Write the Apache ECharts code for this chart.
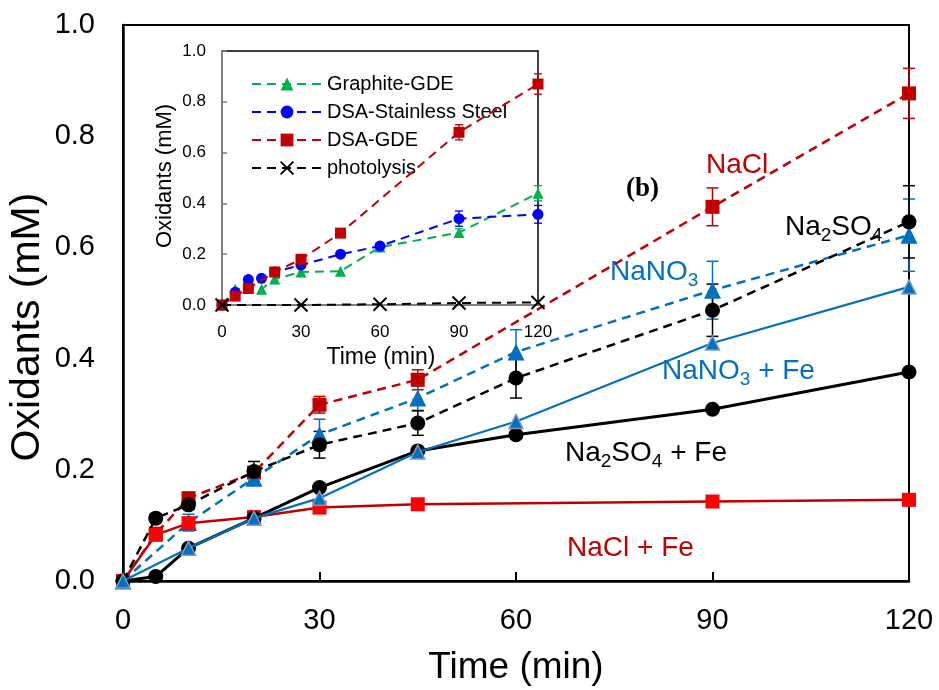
<!DOCTYPE html>
<html><head><meta charset="utf-8">
<script src="https://cdn.jsdelivr.net/npm/echarts@6/dist/echarts.min.js"></script>
<style>html,body{margin:0;padding:0;background:#fff}#c{width:939px;height:690px}</style>
</head><body><div id="c"></div>
<script>
// ---------- main chart data ----------
const timeMain = [0, 5, 10, 20, 30, 45, 60, 90, 120];
const naclVals    = [0, 0.085, 0.149, 0.195, 0.317, 0.362, null, 0.673, 0.877];
const naclErr     = [0, 0, 0.006, 0.010, 0.015, 0.018, null, 0.034, 0.045];
const nano3Vals   = [0, null, 0.105, 0.185, 0.263, 0.329, 0.412, 0.523, 0.622];
const nano3Err    = [0, null, 0.015, 0.012, 0.028, 0.022, 0.040, 0.052, 0.065];
const na2so4Vals  = [0, 0.113, 0.137, 0.197, 0.245, 0.284, 0.365, 0.487, 0.646];
const na2so4Err   = [0, 0.008, 0.008, 0.018, 0.024, 0.022, 0.036, 0.047, 0.065];
const na2so4FeVals= [0, 0.008, 0.059, 0.113, 0.168, 0.234, 0.263, 0.309, 0.376];
const nano3FeVals = [0, null, 0.059, 0.113, 0.149, 0.232, 0.287, 0.428, 0.529];
const naclFeVals  = [0, 0.083, 0.104, 0.115, 0.132, 0.138, null, 0.143, 0.146];
const xTicksMain = [0, 30, 60, 90, 120];
const yTicksMain = [0, 0.2, 0.4, 0.6, 0.8, 1.0];

// ---------- inset data ----------
const timeInset = [0, 5, 10, 15, 20, 30, 45, 60, 90, 120];
const graphiteVals = [0, 0.062, 0.07, 0.062, 0.102, 0.13, 0.133, 0.228, 0.285, 0.44];
const graphiteErr  = [0, 0, 0, 0, 0, 0, 0, 0.01, 0.015, 0.03];
const dsaSSVals    = [0, 0.05, 0.1, 0.105, 0.13, 0.157, 0.2, 0.232, 0.34, 0.357];
const dsaSSErr     = [0, 0, 0, 0, 0, 0, 0.01, 0.01, 0.03, 0.035];
const dsaGDEVals   = [0, 0.035, 0.065, null, 0.13, 0.18, 0.283, null, 0.68, 0.87];
const dsaGDEErr    = [0, 0, 0, null, 0, 0.01, 0.01, null, 0.03, 0.04];
const photoVals    = [0, null, null, null, null, 0.0, null, 0.003, 0.008, 0.01];
const insetNames = ['Graphite-GDE', 'DSA-Stainless Steel', 'DSA-GDE', 'photolysis'];

const DRED = '#C00000', RED = '#FF0000', BLUE = '#0070C0', BLK = '#000000';
const GREEN = '#00B050', PBLUE = '#0000FF';
const FONT = 'Liberation Sans, Arial, sans-serif';

function pairs(times, vals) {
  const out = [];
  times.forEach((t, i) => { if (vals[i] != null) out.push([t, vals[i]]); });
  return out;
}
function errData(times, vals, errs) {
  const out = [];
  times.forEach((t, i) => { if (vals[i] != null && errs[i]) out.push([t, vals[i] - errs[i], vals[i] + errs[i]]); });
  return out;
}
function errSeries(times, vals, errs, color, gi, capW, lw) {
  return {
    type: 'custom', xAxisIndex: gi, yAxisIndex: gi, silent: true, z: 1,
    encode: { x: 0, y: [1, 2] },
    data: errData(times, vals, errs),
    renderItem(params, api) {
      const x = api.value(0);
      const lo = api.coord([x, api.value(1)]);
      const hi = api.coord([x, api.value(2)]);
      const w = capW / 2, st = { stroke: color, lineWidth: lw };
      return { type: 'group', children: [
        { type: 'line', shape: { x1: lo[0], y1: lo[1], x2: hi[0], y2: hi[1] }, style: st },
        { type: 'line', shape: { x1: lo[0] - w, y1: lo[1], x2: lo[0] + w, y2: lo[1] }, style: st },
        { type: 'line', shape: { x1: hi[0] - w, y1: hi[1], x2: hi[0] + w, y2: hi[1] }, style: st }
      ]};
    }
  };
}
function lineSeries(name, times, vals, color, dashed, lw, symbol, size, gi, fill, z) {
  return {
    name, type: 'line', xAxisIndex: gi, yAxisIndex: gi, data: pairs(times, vals),
    connectNulls: true, symbol, symbolSize: size, showSymbol: true, z: z || 2,
    lineStyle: { color, width: lw, type: dashed ? [9, 6] : 'solid' },
    itemStyle: { color: fill || color, borderColor: fill || color, borderWidth: 0, opacity: 1 },
    emphasis: { disabled: true }, animation: false
  };
}

const chart = echarts.init(document.getElementById('c'), null, { renderer: 'canvas' });
const XMARK = 'path://M0,0L10,10M10,0L0,10';

const sub = { fontSize: 19, fontFamily: FONT, verticalAlign: 'top', padding: [13, 0, 0, 0] };
function ann(x, y, text, color, rich) {
  return { type: 'text', x, y, style: { text, fill: color, font: '28px ' + FONT, textVerticalAlign: 'middle',
    rich: rich ? { n: { fontSize: 28, fontFamily: FONT, fill: color, verticalAlign: 'top', lineHeight: 32 }, s: Object.assign({ fill: color, lineHeight: 32 }, sub) } : undefined } };
}

chart.setOption({
  animation: false,
  backgroundColor: '#fff',
  grid: [
    { left: 123, top: 25, width: 786, height: 556, show: true, borderColor: BLK, borderWidth: 2, backgroundColor: 'transparent' },
    { left: 222, top: 51, width: 316, height: 254, show: true, borderColor: BLK, borderWidth: 1.5, backgroundColor: 'transparent' }
  ],
  xAxis: [
    { type: 'value', gridIndex: 0, min: 0, max: 120, interval: 30,
      axisLine: { lineStyle: { color: BLK, width: 2.5 } },
      axisTick: { inside: true, length: 9, lineStyle: { color: BLK, width: 2 } },
      axisLabel: { fontSize: 29, fontFamily: FONT, color: BLK, margin: 25 },
      splitLine: { show: false } },
    { type: 'value', gridIndex: 1, min: 0, max: 120, interval: 30,
      axisLine: { lineStyle: { color: '#808080', width: 2 } },
      axisTick: { show: false },
      axisLabel: { fontSize: 17, fontFamily: FONT, color: BLK, margin: 19 },
      splitLine: { show: false } }
  ],
  yAxis: [
    { type: 'value', gridIndex: 0, min: 0, max: 1, interval: 0.2,
      axisLine: { show: true, lineStyle: { color: BLK, width: 2.5 } },
      axisTick: { show: false },
      axisLabel: { fontSize: 29, fontFamily: FONT, color: BLK, margin: 28, formatter: v => v.toFixed(1) },
      splitLine: { show: false } },
    { type: 'value', gridIndex: 1, min: 0, max: 1, interval: 0.2,
      axisLine: { show: true, lineStyle: { color: '#808080', width: 2 } },
      axisTick: { show: true, inside: true, length: 5, lineStyle: { color: '#808080', width: 1.5 } },
      axisLabel: { fontSize: 17, fontFamily: FONT, color: BLK, margin: 16, formatter: v => v.toFixed(1) },
      splitLine: { show: false } }
  ],
  legend: {
    data: insetNames, orient: 'vertical', left: 246, top: 69, itemWidth: 70, itemHeight: 16, itemGap: 8,
    textStyle: { fontSize: 20, fontFamily: FONT, color: BLK }, selectedMode: false
  },
  series: [
    // main error bars
    errSeries(timeMain, naclVals, naclErr, DRED, 0, 12, 1.5),
    errSeries(timeMain, nano3Vals, nano3Err, BLUE, 0, 12, 1.5),
    errSeries(timeMain, na2so4Vals, na2so4Err, BLK, 0, 12, 1.5),
    // main lines
    lineSeries('NaCl', timeMain, naclVals, DRED, true, 2.5, 'rect', 14, 0, DRED, 2),
    lineSeries('NaNO3', timeMain, nano3Vals, BLUE, true, 2.5, 'triangle', 17, 0, BLUE, 3),
    lineSeries('NaCl + Fe', timeMain, naclFeVals, DRED, false, 2.5, 'rect', 14, 0, RED, 4),
    lineSeries('Na2SO4', timeMain, na2so4Vals, BLK, true, 2.5, 'circle', 15, 0, BLK, 5),
    lineSeries('Na2SO4 + Fe', timeMain, na2so4FeVals, BLK, false, 3, 'circle', 15, 0, BLK, 6),
    Object.assign(lineSeries('NaNO3 + Fe', timeMain, nano3FeVals, BLUE, false, 2.2, 'triangle', 14, 0, BLUE, 7),
      { itemStyle: { color: BLUE, borderColor: '#7f9cc0', borderWidth: 1.5 } }),
    // inset error bars
    errSeries(timeInset, graphiteVals, graphiteErr, GREEN, 1, 8, 1.3),
    errSeries(timeInset, dsaSSVals, dsaSSErr, PBLUE, 1, 8, 1.3),
    errSeries(timeInset, dsaGDEVals, dsaGDEErr, DRED, 1, 8, 1.3),
    // inset lines
    lineSeries('Graphite-GDE', timeInset, graphiteVals, GREEN, true, 2, 'triangle', 11, 1, GREEN, 2),
    lineSeries('DSA-Stainless Steel', timeInset, dsaSSVals, PBLUE, true, 2, 'circle', 11, 1, PBLUE, 3),
    lineSeries('DSA-GDE', timeInset, dsaGDEVals, DRED, true, 2, 'rect', 11, 1, DRED, 4),
    Object.assign(lineSeries('photolysis', timeInset, photoVals, BLK, true, 2, XMARK, 13, 1, BLK, 5),
      { itemStyle: { color: BLK, borderColor: BLK, borderWidth: 2 } })
  ],
  graphic: [
    { type: 'text', x: 516, y: 668, style: { text: 'Time (min)', font: '37px ' + FONT, fill: BLK, textAlign: 'center', textVerticalAlign: 'middle' } },
    { type: 'text', x: 28, y: 327, rotation: Math.PI / 2, style: { text: 'Oxidants (mM)', font: '41px ' + FONT, fill: BLK, textAlign: 'center', textVerticalAlign: 'middle' } },
    { type: 'text', x: 381, y: 358, style: { text: 'Time (min)', font: '23px ' + FONT, fill: BLK, textAlign: 'center', textVerticalAlign: 'middle' } },
    { type: 'text', x: 165, y: 176, rotation: Math.PI / 2, style: { text: 'Oxidants (mM)', font: '22px ' + FONT, fill: BLK, textAlign: 'center', textVerticalAlign: 'middle' } },
    { type: 'text', x: 626, y: 189, style: { text: '(b)', font: 'bold 27px Liberation Serif, Times New Roman, serif', fill: BLK, textVerticalAlign: 'middle' } },
    ann(706, 165, 'NaCl', DRED, false),
    ann(785, 229, '{n|Na}{s|2}{n|SO}{s|4}', BLK, true),
    ann(610, 274, '{n|NaNO}{s|3}', BLUE, true),
    ann(662, 373, '{n|NaNO}{s|3}{n| + Fe}', BLUE, true),
    ann(565, 455, '{n|Na}{s|2}{n|SO}{s|4}{n| + Fe}', BLK, true),
    ann(567, 548, 'NaCl + Fe', DRED, false)
  ]
});
</script></body></html>
